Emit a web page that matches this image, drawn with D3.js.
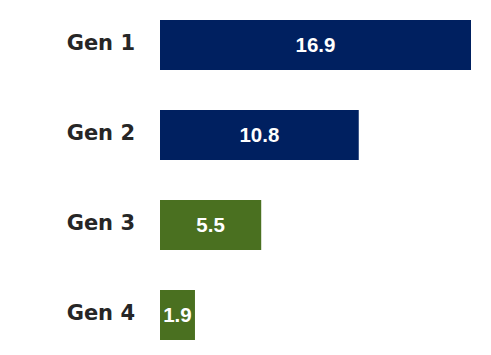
<!DOCTYPE html>
<html lang="en">
<head>
<meta charset="UTF-8">
<title>Gen chart</title>
<script src="https://cdn.jsdelivr.net/npm/d3@7"></script>
<style>
  body { margin: 0; background: #fff; }
</style>
</head>
<body>
<div id="chart"></div>
<script>
  var categories = ["Gen 1", "Gen 2", "Gen 3", "Gen 4"];
  var values = [16.9, 10.8, 5.5, 1.9];
  var barColors = ["#002060", "#002060", "#4a7020", "#4a7020"];

  var width = 491, height = 355;
  var margin = {top: 20, right: 20, bottom: 15, left: 160};

  var svg = d3.select("#chart").append("svg")
      .attr("width", width)
      .attr("height", height);

  var x = d3.scaleLinear()
      .domain([0, 16.9])
      .range([margin.left, 471]);

  var y = d3.scaleBand()
      .domain(categories)
      .range([0, 90 * categories.length])
      .paddingInner(40 / 90)
      .paddingOuter(20 / 90);

  var rows = svg.selectAll("g.row")
      .data(categories)
      .join("g")
      .attr("class", "row");

  rows.append("rect")
      .attr("x", x(0))
      .attr("y", function(d) { return y(d); })
      .attr("width", function(d, i) { return x(values[i]) - x(0); })
      .attr("height", y.bandwidth())
      .attr("fill", function(d, i) { return barColors[i]; });

  // category labels, sit a bit above the bar centre
  rows.append("text")
      .attr("x", 135)
      .attr("y", function(d) { return y(d) + y.bandwidth() / 2 - 2.5; })
      .attr("dy", "0.36em")
      .attr("text-anchor", "end")
      .style("font-family", "Verdana, 'DejaVu Sans', sans-serif")
      .style("font-weight", "bold")
      .style("font-size", "21px")
      .style("fill", "#262626")
      .text(function(d) { return d; });

  rows.append("text")
      .attr("x", function(d, i) { return (x(0) + x(values[i])) / 2; })
      .attr("y", function(d) { return y(d) + y.bandwidth() / 2; })
      .attr("dy", "0.36em")
      .attr("text-anchor", "middle")
      .style("font-family", "'Liberation Sans', Arial, sans-serif")
      .style("font-weight", "bold")
      .style("font-size", "20.5px")
      .style("fill", "#ffffff")
      .text(function(d, i) { return values[i].toFixed(1); });
</script>
</body>
</html>
